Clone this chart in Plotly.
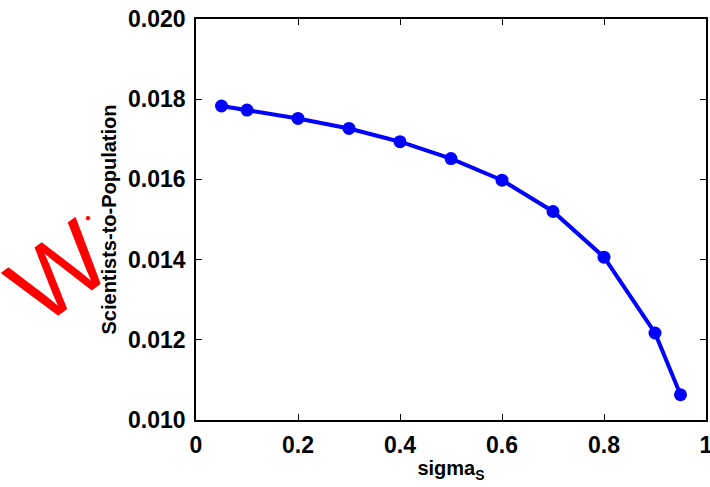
import plotly.graph_objects as go

# sigma_S vs scientists-to-population ratio
sigma_s = [0.05, 0.1, 0.2, 0.3, 0.4, 0.5, 0.6, 0.7, 0.8, 0.9, 0.95]
ratio = [0.01783, 0.01773, 0.01752, 0.01727, 0.01694, 0.01652,
         0.01598, 0.01520, 0.01406, 0.01217, 0.01063]

x_ticks = [0, 0.2, 0.4, 0.6, 0.8, 1]
x_labels = ["0", "0.2", "0.4", "0.6", "0.8", "1"]
y_ticks = [0.010, 0.012, 0.014, 0.016, 0.018, 0.020]
y_labels = ["0.010", "0.012", "0.014", "0.016", "0.018", "0.020"]

FONT = "Liberation Sans, Arial, sans-serif"

fig = go.Figure(go.Scatter(
    x=sigma_s,
    y=ratio,
    mode="lines+markers",
    line=dict(color="#0000FF", width=4),
    marker=dict(color="#0000FF", size=13),
))

axe = dict(
    showline=True, linecolor="black", linewidth=1.5, mirror="ticks",
    ticks="inside", ticklen=6, tickcolor="black", tickwidth=1,
    showgrid=False, zeroline=False, automargin=False,
    ticklabeloverflow="allow", ticklabelstandoff=4,
    tickfont=dict(family=FONT, size=23, color="black", weight="bold"),
)

fig.update_layout(
    width=710, height=487,
    plot_bgcolor="white", paper_bgcolor="white",
    showlegend=False,
    margin=dict(l=196, r=4, t=19, b=67),
    xaxis=dict(axe, range=[0, 1], tickvals=x_ticks, ticktext=x_labels,
               title=dict(text="sigma<sub>S</sub>", standoff=4,
                          font=dict(family=FONT, size=20, color="black", weight="bold"))),
    yaxis=dict(axe, range=[0.010, 0.020], tickvals=y_ticks, ticktext=y_labels,
               title=dict(text="Scientists-to-Population", standoff=6,
                          font=dict(family=FONT, size=20, color="black", weight="bold"))),
    annotations=[
        dict(text="W", x=-0.27, y=0.37, xref="paper", yref="paper",
             xanchor="center", yanchor="middle",
             showarrow=False, textangle=-37,
             font=dict(family=FONT, size=100, color="#FF0000")),
        dict(text="●", x=-0.211, y=0.505, xref="paper", yref="paper",
             xanchor="center", yanchor="middle",
             showarrow=False, font=dict(family=FONT, size=10, color="#FF0000")),
    ],
)

# supprime la marge par défaut du <body> pour que la figure occupe toute la fenêtre
fig.write_html("out.html", config={"displayModeBar": False},
               post_script="document.body.style.margin='0';"
                           "document.body.style.overflow='hidden';")
